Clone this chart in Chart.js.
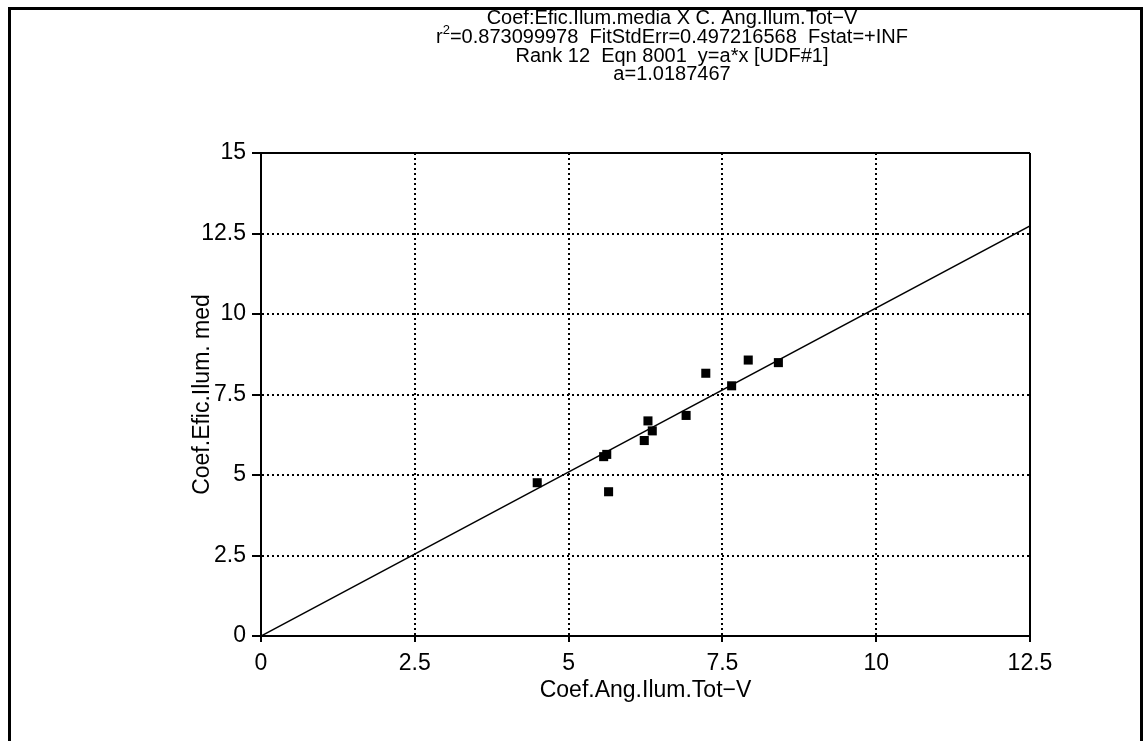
<!DOCTYPE html>
<html>
<head>
<meta charset="utf-8">
<script src="https://cdn.jsdelivr.net/npm/chart.js@4/dist/chart.umd.min.js"></script>
<style>
    html, body { margin: 0; padding: 0; background: #fff; }
    #wrap { width: 1147px; height: 741px; }
</style>
</head>
<body>
<div id="wrap"><canvas id="fitChart" width="1147" height="741"></canvas></div>
<script>
// measured points
const xValues = [4.49, 5.57, 5.62, 5.65, 6.23, 6.29, 6.36, 6.91, 7.23, 7.65, 7.92, 8.41];
const yValues = [4.76, 5.57, 5.64, 4.48, 6.07, 6.68, 6.37, 6.85, 8.16, 7.77, 8.57, 8.49];

// fitted model y = a*x
const coefA = 1.0187467;
const fitX = [0, 12.5];

const xTicks = [0, 2.5, 5, 7.5, 10, 12.5];
const yTicks = [0, 2.5, 5, 7.5, 10, 12.5, 15];

const titleLines = [
    'Coef:Efic.Ilum.media X C. Ang.Ilum.Tot\u2212V',
    'r|2|=0.873099978  FitStdErr=0.497216568  Fstat=+INF',
    'Rank 12  Eqn 8001  y=a*x [UDF#1]',
    'a=1.0187467'
];

const FONT = '"Liberation Sans", sans-serif';

document.addEventListener('DOMContentLoaded', () => {
    const ctx = document.getElementById('fitChart').getContext('2d');

    const points = xValues.map((x, i) => ({ x: x, y: yValues[i] }));
    const fitLine = fitX.map(x => ({ x: x, y: coefA * x }));

    // white page, outer frame and the stacked header text
    const pagePlugin = {
        id: 'page',
        beforeDraw(chart) {
            const c = chart.ctx;
            c.save();
            c.fillStyle = '#fff';
            c.fillRect(0, 0, chart.width, chart.height);
            c.strokeStyle = '#000';
            c.lineWidth = 3;
            c.strokeRect(9.5, 8.5, 1132, 760);
            c.restore();
        },
        afterDraw(chart) {
            const c = chart.ctx;
            const cx = 672;
            const ys = [18, 37, 56, 74];
            const big = '20px ' + FONT;
            const small = '13px ' + FONT;
            c.save();
            c.fillStyle = '#000';
            c.textBaseline = 'middle';
            titleLines.forEach((line, i) => {
                const parts = line.split('|');
                if (parts.length === 3) {
                    // r^2 with a superscript
                    c.font = big;
                    const w0 = c.measureText(parts[0]).width;
                    const w2 = c.measureText(parts[2]).width;
                    c.font = small;
                    const w1 = c.measureText(parts[1]).width;
                    let x = cx - (w0 + w1 + w2) / 2;
                    c.textAlign = 'left';
                    c.font = big;
                    c.fillText(parts[0], x, ys[i]);
                    x += w0;
                    c.font = small;
                    c.fillText(parts[1], x, ys[i] - 7);
                    x += w1;
                    c.font = big;
                    c.fillText(parts[2], x, ys[i]);
                } else {
                    c.textAlign = 'center';
                    c.font = big;
                    c.fillText(line, cx, ys[i]);
                }
            });
            c.restore();
        }
    };

    // dotted inner grid, solid line on the far edge
    const gridDash = (ticks) => (context) => {
        if (context.index === ticks.length - 1) return [];
        return [2, 3];
    };
    const gridColor = (context) => context.index === 0 ? 'rgba(0,0,0,0)' : '#000';

    new Chart(ctx, {
        type: 'scatter',
        data: {
            datasets: [
                {
                    label: 'data',
                    data: points,
                    pointStyle: 'rect',
                    pointRadius: 6.4,
                    pointHoverRadius: 6.4,
                    backgroundColor: '#000',
                    borderColor: '#000',
                    borderWidth: 0,
                    order: 2
                },
                {
                    type: 'line',
                    label: 'fit',
                    data: fitLine,
                    borderColor: '#000',
                    borderWidth: 1.5,
                    pointRadius: 0,
                    fill: false,
                    order: 1
                }
            ]
        },
        options: {
            responsive: false,
            animation: false,
            layout: { padding: { left: 0, right: 117, top: 153, bottom: 0 } },
            plugins: {
                legend: { display: false },
                title: { display: false },
                tooltip: { enabled: false }
            },
            scales: {
                x: {
                    type: 'linear',
                    min: 0,
                    max: 12.5,
                    afterBuildTicks: (axis) => { axis.ticks = xTicks.map(v => ({ value: v })); },
                    afterFit: (axis) => { axis.height = 105; },
                    ticks: {
                        color: '#000',
                        padding: 8,
                        font: { family: FONT, size: 23 },
                        callback: (v) => String(v)
                    },
                    grid: {
                        color: gridColor,
                        lineWidth: 2,
                        tickLength: 6,
                        tickColor: '#000',
                        tickWidth: 2
                    },
                    border: { display: true, color: '#000', width: 2, dash: gridDash(xTicks) },
                    title: {
                        display: true,
                        text: 'Coef.Ang.Ilum.Tot\u2212V',
                        color: '#000',
                        font: { family: FONT, size: 23 },
                        padding: { top: 0, bottom: 37 }
                    }
                },
                y: {
                    type: 'linear',
                    min: 0,
                    max: 15,
                    afterBuildTicks: (axis) => { axis.ticks = yTicks.map(v => ({ value: v })); },
                    afterFit: (axis) => { axis.width = 261; },
                    ticks: {
                        color: '#000',
                        padding: 6,
                        font: { family: FONT, size: 23 },
                        callback: (v) => String(v)
                    },
                    grid: {
                        color: gridColor,
                        lineWidth: 2,
                        tickLength: 9,
                        tickColor: '#000',
                        tickWidth: 2
                    },
                    border: { display: true, color: '#000', width: 2, dash: gridDash(yTicks) },
                    title: {
                        display: true,
                        text: 'Coef.Efic.Ilum. med',
                        color: '#000',
                        font: { family: FONT, size: 23 },
                        padding: { top: 189, bottom: 0 }
                    }
                }
            }
        },
        plugins: [pagePlugin]
    });
});
</script>
</body>
</html>
